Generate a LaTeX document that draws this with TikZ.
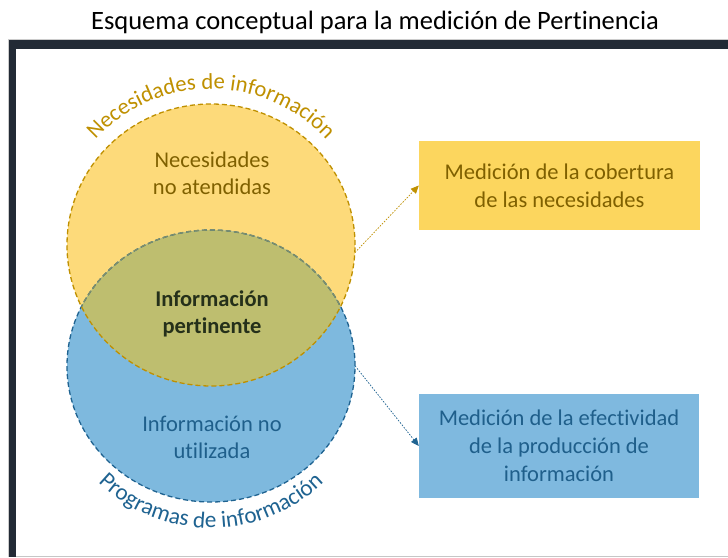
\documentclass[tikz,border=0pt]{standalone}
\usepackage{fontspec}
\setmainfont{Carlito}[Ligatures={NoCommon}]
\usetikzlibrary{shapes.geometric,decorations.text,arrows.meta}
\definecolor{frameC}{HTML}{222A35}
\definecolor{ylwFill}{HTML}{FDDA7A}
\definecolor{ylwBox}{HTML}{FCD65E}
\definecolor{ylwLine}{HTML}{BF9000}
\definecolor{ylwText}{HTML}{7F6000}
\definecolor{bluFill}{HTML}{7EB9DE}
\definecolor{bluBox}{HTML}{7FB9DF}
\definecolor{bluLine}{HTML}{1F6391}
\definecolor{bluText}{HTML}{1F5F8B}
\definecolor{lensFill}{HTML}{BEBE6F}
\definecolor{lensLine}{HTML}{7E8E6A}
\definecolor{boldText}{HTML}{25301A}
\begin{document}
\begin{tikzpicture}[x=1pt,y=1pt,
  blob/.style={ellipse,inner sep=0pt,draw=none},
  circborder/.style={line width=1.3pt,dash pattern=on 5pt off 3pt},
  boxnode/.style={rectangle,inner sep=0pt,align=center,font=\fontsize{22.5}{28}\selectfont},
  link/.style={line width=0.7pt,dash pattern=on 1.6pt off 1.4pt,-{Triangle[length=8pt,width=7pt]}},
  lbl/.style={align=center,font=\fontsize{22.5}{27.5}\selectfont}]
\useasboundingbox (0,0) rectangle (728,557);
\fill[white] (0,0) rectangle (728,557);
% frame
\fill[frameC] (8,508.3) rectangle (728,518);
\fill[frameC] (8,0) rectangle (16,518);
\draw[gray!40,line width=0.6pt] (8,0) -- (8,518) -- (728,518);
\draw[gray!45,line width=1pt] (16,1) -- (728,1);
% title
\node[font=\fontsize{26.5}{30}\selectfont] (title) at (375,535) {Esquema conceptual para la medición de Pertinencia};
% circles
\node[blob,fill=ylwFill,minimum width=288pt,minimum height=282pt] (yc) at (211,312) {};
\node[blob,fill=bluFill,minimum width=288pt,minimum height=272pt] (bc) at (211,191) {};
\begin{scope}
  \clip (211,312) ellipse [x radius=144pt, y radius=141pt];
  \fill[lensFill] (211,191) ellipse [x radius=144pt, y radius=136pt];
\end{scope}
\draw[circborder,bluLine] (211,191) ellipse [x radius=144pt, y radius=136pt];
\begin{scope}
  \clip (211,312) ellipse [x radius=144pt, y radius=141pt];
  \draw[circborder,lensLine] (211,191) ellipse [x radius=144pt, y radius=136pt];
\end{scope}
\draw[circborder,ylwLine] (211,312) ellipse [x radius=144pt, y radius=141pt];
% circle labels
\node[lbl,text=ylwText] (nna) at (212,383.5) {Necesidades\\no atendidas};
\node[lbl,text=boldText,font=\fontsize{22.5}{27.5}\selectfont\bfseries] (ip) at (212,243) {Información\\pertinente};
\node[lbl,text=bluText] (inu) at (212,119.5) {Información no\\utilizada};
% curved labels
\path[decorate,decoration={text along path,text align=center,
  text={|\fontsize{22.6}{22.6}\selectfont\color{ylwLine}|Necesidades de información}}]
  (211,312) ++(180:156) arc[start angle=180,end angle=0,radius=156];
\path[decorate,decoration={text along path,text align=center,
  text={|\fontsize{23.2}{23.2}\selectfont\color{bluLine}|Programas de información}}]
  (211,191) ++(180:162) arc[start angle=180,end angle=360,radius=162];
% boxes
\node[boxnode,fill=ylwBox,text=ylwText,minimum width=281pt,minimum height=89pt] (ybox) at (559.5,371.5) {Medición de la cobertura\\de las necesidades};
\node[boxnode,fill=bluBox,text=bluText,minimum width=280pt,minimum height=104pt] (bbox) at (559,111) {Medición de la efectividad\\de la producción de\\información};
% connectors
\draw[link,ylwLine] (yc.-3) -- (ybox.west);
\draw[link,bluLine] (bc.0) -- (bbox.west);
\end{tikzpicture}
\end{document}
